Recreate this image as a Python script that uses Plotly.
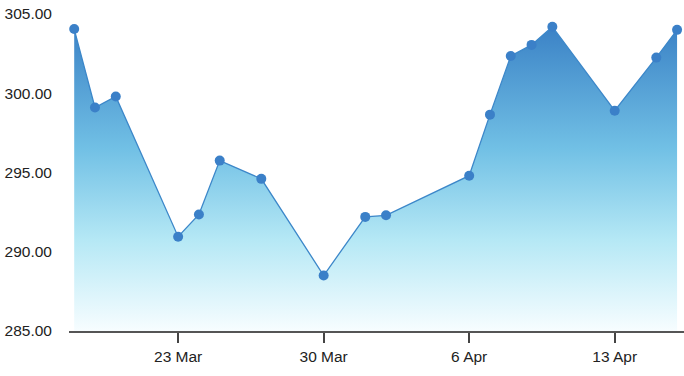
import plotly.graph_objects as go

dates = ["2020-03-18", "2020-03-19", "2020-03-20", "2020-03-23", "2020-03-24", "2020-03-25",
         "2020-03-27", "2020-03-30", "2020-04-01", "2020-04-02", "2020-04-06", "2020-04-07",
         "2020-04-08", "2020-04-09", "2020-04-10", "2020-04-13", "2020-04-15", "2020-04-16"]
values = [304.05, 299.1, 299.8, 290.95, 292.35, 295.75,
          294.6, 288.5, 292.2, 292.3, 294.8, 298.65,
          302.35, 303.05, 304.2, 298.9, 302.25, 304.0]

tick_vals = ["2020-03-23", "2020-03-30", "2020-04-06", "2020-04-13"]
tick_text = ["23 Mar", "30 Mar", "6 Apr", "13 Apr"]
y_ticks = [285, 290, 295, 300, 305]
y_text = ["285.00", "290.00", "295.00", "300.00", "305.00"]

fig = go.Figure()
fig.add_trace(go.Scatter(
    x=dates, y=[285] * len(dates), mode="lines",
    line=dict(width=0), hoverinfo="skip", showlegend=False))
fig.add_trace(go.Scatter(
    x=dates, y=values, mode="lines+markers",
    fill="tonexty",
    fillgradient=dict(type="vertical", start=285, stop=304.2,
                      colorscale=[[0, "#f7fdff"], [0.3, "#b5e8f5"], [0.6, "#71c0e5"], [1, "#3b82c6"]]),
    line=dict(color="#3c87c9", width=1.3),
    marker=dict(color="#3b80c8", size=10),
    showlegend=False))

fig.update_layout(
    width=684, height=376,
    margin=dict(l=69, r=0, t=14, b=45),
    paper_bgcolor="white", plot_bgcolor="white",
    font=dict(family="Liberation Sans, Arial, sans-serif", size=15.5, color="#222"),
    xaxis=dict(range=["2020-03-17 18:00", "2020-04-16 08:00"],
               tickvals=tick_vals, ticktext=tick_text,
               showgrid=False, zeroline=False,
               showline=True, linecolor="#555", linewidth=2,
               ticks="outside", ticklen=10, tickcolor="#444", tickwidth=1.5),
    yaxis=dict(range=[285, 305], tickvals=y_ticks, ticktext=y_text,
               showgrid=False, zeroline=False, showline=False,
               ticks="", ticklabelstandoff=16),
)

fig.write_html("out.html")
